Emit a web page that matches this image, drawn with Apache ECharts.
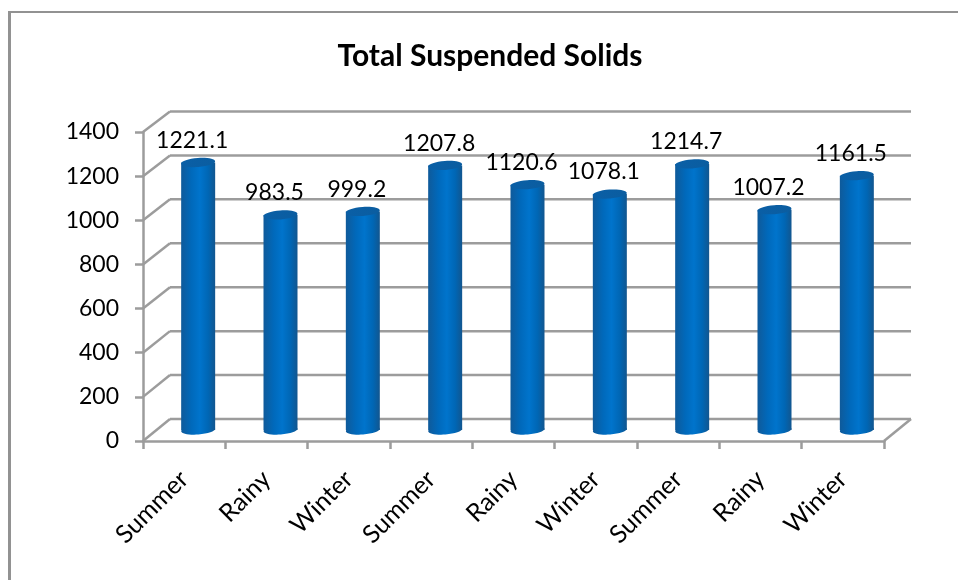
<!DOCTYPE html>
<html>
<head>
<meta charset="utf-8">
<title>Total Suspended Solids</title>
<style>
  html, body { margin: 0; padding: 0; background: #fff; }
  #chart { width: 958px; height: 580px; }
</style>
<script src="https://cdn.jsdelivr.net/npm/echarts@6/dist/echarts.min.js"></script>
</head>
<body>
<div id="chart"></div>
<script>
var seasons = ['Summer', 'Rainy', 'Winter', 'Summer', 'Rainy', 'Winter', 'Summer', 'Rainy', 'Winter'];
var tssValues = [1221.1, 983.5, 999.2, 1207.8, 1120.6, 1078.1, 1214.7, 1007.2, 1161.5];
var yTicks = [0, 200, 400, 600, 800, 1000, 1200, 1400];

var FONT = 'Lato, "Open Sans", sans-serif';
var GREY = '#9c9c9c';
// depth of the fake 3d box
var DX = 27, DY = 22;

var myChart = echarts.init(document.getElementById('chart'));

function renderWall(params, api) {
  var v = api.value(0);
  var y = api.coord([0, v])[1];
  var x0 = params.coordSys.x;
  var x1 = x0 + params.coordSys.width;
  // back wall is a little shorter than the front, perspective
  var dy = DY - 1.5 * v / 1400;
  var lineStyle = { stroke: GREY, lineWidth: 2.5, fill: null };
  var children = [
    { type: 'line', shape: { x1: x0, y1: y, x2: x0 + DX, y2: y - dy }, style: lineStyle },
    { type: 'line', shape: { x1: x0 + DX, y1: y - dy, x2: x1 + DX, y2: y - dy }, style: lineStyle }
  ];
  if (v === 0) {
    children.push({ type: 'line', shape: { x1: x1, y1: y, x2: x1 + DX, y2: y - dy }, style: lineStyle });
  }
  return { type: 'group', children: children };
}

function renderCylinder(params, api) {
  var top = api.coord([api.value(0), api.value(1)]);
  var base = api.coord([api.value(0), 0]);
  var cx = top[0] + 14;
  var topY = top[1] - 11 + 2;
  var baseY = base[1] - 11;
  var rx = 17, ry = 4.5;
  var tilt = 4 * Math.PI / 180;
  var bodyFill = new echarts.graphic.LinearGradient(0, 0, 1, 0, [
    { offset: 0, color: '#0f5a9a' },
    { offset: 0.3, color: '#0069bb' },
    { offset: 0.55, color: '#0074cc' },
    { offset: 0.8, color: '#0066b4' },
    { offset: 1, color: '#12568f' }
  ]);
  var capFill = new echarts.graphic.LinearGradient(0, 0, 1, 0, [
    { offset: 0, color: '#0a5fa6' },
    { offset: 1, color: '#0b5da0' }
  ]);
  return {
    type: 'group',
    children: [
      {
        type: 'ellipse',
        originX: cx, originY: baseY, rotation: tilt,
        shape: { cx: cx, cy: baseY, rx: rx, ry: ry },
        style: { fill: bodyFill }
      },
      {
        type: 'rect',
        shape: { x: cx - rx, y: topY, width: rx * 2, height: baseY - topY },
        style: { fill: bodyFill }
      },
      {
        type: 'ellipse',
        originX: cx, originY: topY, rotation: tilt,
        shape: { cx: cx, cy: topY, rx: rx, ry: ry },
        style: { fill: capFill }
      },
      {
        type: 'text',
        style: {
          x: cx - 6, y: topY - 22,
          text: String(api.value(1)),
          fill: '#000',
          font: '23px ' + FONT,
          textAlign: 'center',
          textVerticalAlign: 'middle'
        }
      }
    ]
  };
}

var option = {
  animation: false,
  backgroundColor: '#fff',
  title: {
    text: 'Total Suspended Solids',
    left: 485,
    top: 36,
    textAlign: 'center',
    textStyle: { fontFamily: FONT, fontSize: 30, fontWeight: 'bold', color: '#000' }
  },
  grid: { left: 143, right: 74, top: 132, bottom: 139 },
  xAxis: {
    type: 'category',
    data: seasons,
    axisLine: { lineStyle: { color: GREY, width: 2.5 } },
    axisTick: { show: true, length: 8, lineStyle: { color: GREY, width: 2.5 } },
    axisLabel: {
      interval: 0,
      rotate: 45,
      margin: 34,
      color: '#000',
      fontFamily: FONT,
      fontSize: 25
    }
  },
  yAxis: {
    type: 'value',
    min: 0,
    max: 1400,
    interval: 200,
    axisLine: { show: true, lineStyle: { color: GREY, width: 2.5 } },
    axisTick: { show: true, length: 8, lineStyle: { color: GREY, width: 2.5 } },
    splitLine: { show: false },
    axisLabel: {
      margin: 24,
      color: '#000',
      fontFamily: FONT,
      fontSize: 23,
      padding: [8, 0, 0, 0],
      formatter: function (v) { return String(v); }
    }
  },
  graphic: [
    // chart frame, only the top and left edges show in the picture
    { type: 'rect', shape: { x: 8, y: 11, width: 3, height: 569 }, style: { fill: '#929292' } },
    { type: 'rect', shape: { x: 8, y: 11, width: 950, height: 2 }, style: { fill: '#929292' } }
  ],
  series: [
    {
      name: 'wall',
      type: 'custom',
      z: 1,
      silent: true,
      renderItem: renderWall,
      data: yTicks.map(function (v) { return [v]; }),
      encode: { y: 0 }
    },
    {
      name: 'Total Suspended Solids',
      type: 'custom',
      z: 3,
      renderItem: renderCylinder,
      data: tssValues.map(function (v, i) { return [i, v]; }),
      encode: { x: 0, y: 1 }
    }
  ]
};

myChart.setOption(option);
</script>
</body>
</html>
